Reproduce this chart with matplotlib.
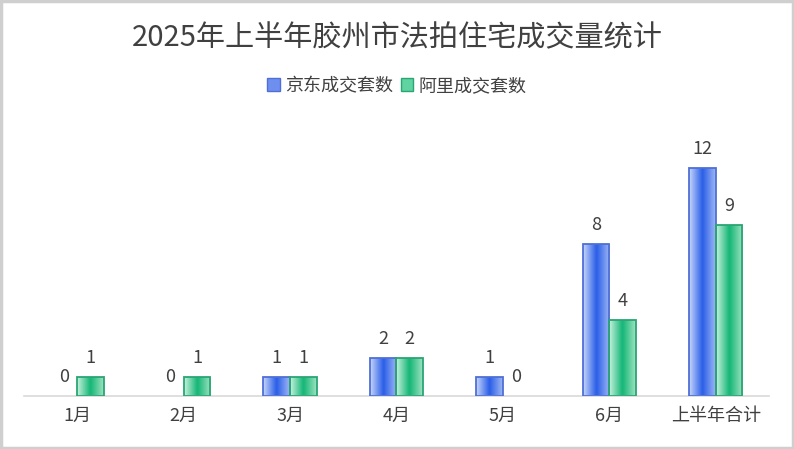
import matplotlib
matplotlib.use("Agg")
import matplotlib.pyplot as plt
import numpy as np
from matplotlib.colors import LinearSegmentedColormap
from matplotlib.patches import Rectangle

plt.rcParams['font.family'] = ['Noto Sans CJK SC', 'DejaVu Sans']

categories = ['1月', '2月', '3月', '4月', '5月', '6月', '上半年合计']
jd_values = [0, 0, 1, 2, 1, 8, 12]
ali_values = [1, 1, 1, 2, 0, 4, 9]
series_names = ['京东成交套数', '阿里成交套数']
title = '2025年上半年胶州市法拍住宅成交量统计'

W, H = 794, 449
fig = plt.figure(figsize=(W / 100, H / 100), dpi=100)
fig.patch.set_facecolor('white')
fig.add_artist(Rectangle((0.0015, 0.002), 0.997, 0.995, transform=fig.transFigure,
                         fill=False, edgecolor='#cfcfcf', linewidth=2.5))

ax = fig.add_axes([24 / W, (H - 396) / H, (769 - 24) / W, (396 - 130) / H])
ax.set_facecolor('none')

x = np.arange(len(categories))
bw = 0.25

blue_cmap = LinearSegmentedColormap.from_list('b', ['#c9d8fa', '#2a5ee8', '#9fb8f4'])
green_cmap = LinearSegmentedColormap.from_list('g', ['#c8f2de', '#14b676', '#9fe3c3'])

grad = np.linspace(0, 1, 256).reshape(1, -1)

def draw(vals, offset, cmap, edge):
    bars = ax.bar(x + offset, vals, bw, color='none', edgecolor=edge, linewidth=1.3, zorder=3)
    for b, v in zip(bars, vals):
        if v <= 0:
            b.set_linewidth(0)
            continue
        x0, w, h = b.get_x(), b.get_width(), b.get_height()
        ax.imshow(grad, extent=(x0, x0 + w, 0, h), cmap=cmap, aspect='auto',
                  interpolation='bicubic', zorder=2)
    for b, v in zip(bars, vals):
        ax.text(b.get_x() + b.get_width() / 2, v + 0.55, str(v), ha='center', va='bottom',
                fontsize=13, color='#404040')
    return bars

draw(jd_values, -bw / 2, blue_cmap, '#4f6fd6')
draw(ali_values, bw / 2, green_cmap, '#2aa574')

ax.set_xlim(-0.5, len(categories) - 0.5)
ax.set_ylim(0, 14)
for s in ['top', 'right', 'left']:
    ax.spines[s].set_visible(False)
ax.spines['bottom'].set_color('#d9d9d9')
ax.spines['bottom'].set_linewidth(1.2)
ax.set_yticks([])
ax.set_xticks(x)
ax.set_xticklabels(categories, fontsize=13, color='#404040')
ax.tick_params(axis='x', length=0, pad=8)

fig.text(0.5, (H - 38) / H, title, ha='center', va='center', fontsize=21, color='#404040')

handles = [Rectangle((0, 0), 1, 1, facecolor='#6f8ff0', edgecolor='#4f6fd6'),
           Rectangle((0, 0), 1, 1, facecolor='#5fd3a0', edgecolor='#2aa574')]
fig.legend(handles, series_names, loc='center', bbox_to_anchor=(0.5, (H - 86) / H),
           ncol=2, frameon=False, fontsize=13, handlelength=0.7, handleheight=0.7,
           handletextpad=0.3, columnspacing=0.4, labelcolor='#404040')

fig.savefig('out.png', dpi=100, facecolor='white')
